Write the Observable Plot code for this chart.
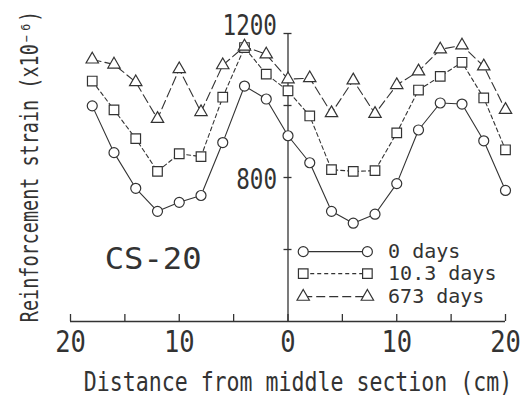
<!DOCTYPE html>
<html>
<head>
<meta charset="utf-8">
<script src="https://cdn.jsdelivr.net/npm/d3@7"></script>
<script src="https://cdn.jsdelivr.net/npm/@observablehq/plot@0.6"></script>
<style>
  html, body { margin: 0; padding: 0; background: #fff; }
  #chart svg { display: block; }
</style>
</head>
<body>
<div id="chart"></div>
<script>
// ---- data ----
const positions = [-18, -16, -14, -12, -10, -8, -6, -4, -2, 0, 2, 4, 6, 8, 10, 12, 14, 16, 18, 20];
const strain0days   = [999, 869, 770, 706, 731, 750, 897, 1054, 1018, 916, 841, 706, 673, 698, 783, 932, 1007, 1004, 902, 764];
const strain10days  = [1068, 988, 908, 817, 866, 858, 1023, 1161, 1087, 1041, 971, 822, 817, 819, 924, 1043, 1081, 1120, 1021, 877];
const strain673days = [1128, 1114, 1065, 963, 1101, 982, 1112, 1164, 1142, 1073, 1076, 979, 1070, 977, 1057, 1095, 1156, 1167, 1109, 988];
const seriesNames = ["0 days", "10.3 days", "673 days"];
const xTicks = [-20, -15, -10, -5, 0, 5, 10, 15, 20];
const xTickLabels = [-20, -10, 0, 10, 20];
const yTicks = [600, 800, 1000, 1200];
const yTickLabels = [800, 1200];
const specimenLabel = "CS-20";
const xTitle = "Distance from middle section (cm)";
const yTitle = "Reinforcement strain (x10\u207B\u2076)";

// ---- layout / style ----
const ink = "#333";
const mono = "'DejaVu Sans Mono', 'Liberation Mono', monospace";
const legendLayout = {x1: 1.4, x2: 7.3, textX: 9.2, rows: [594, 533, 469]};
const specimenAt = {x: -12.4, y: 574};
const styles = [
  {symbol: "circle", r: 5, dash: null},
  {symbol: "square", r: 5.4, dash: "4,3"},
  {symbol: "triangle", r: 4.6, dash: "9,4"}
];
const seriesValues = [strain0days, strain10days, strain673days];
// font sizes double as keys for the horizontal squeeze below
const fs = {xlab: 30, ylab: 29, xtitle: 26, ytitle: 24, spec: 31, legend: 20};
const squeezeBySize = {30: 0.85, 29: 0.78, 26: 0.83, 24: 0.77, 31: 1.04, 20: 1.0};

const marks = [];
marks.push(Plot.ruleY([400], {stroke: ink, strokeWidth: 1.3}));
marks.push(Plot.ruleX([0], {y1: 400, y2: 1200, stroke: ink, strokeWidth: 1.3}));
marks.push(Plot.ruleX(xTicks, {x: d => d, y1: 400, y2: 400, insetBottom: 7, stroke: ink, strokeWidth: 1.3}));
marks.push(Plot.ruleY(yTicks, {y: d => d, x1: 0, x2: 0, insetLeft: -4, insetRight: -4, stroke: ink, strokeWidth: 1.3}));
marks.push(Plot.text(xTickLabels, {x: d => d, frameAnchor: "bottom", dy: 30, text: d => String(Math.abs(d)),
  fontFamily: mono, fontSize: fs.xlab, fill: ink}));
marks.push(Plot.text(yTickLabels.filter(d => d !== 1200), {x: 0, y: d => d, dx: -11, dy: 2, textAnchor: "end", text: d => String(d),
  fontFamily: mono, fontSize: fs.ylab, fill: ink}));
marks.push(Plot.text(yTickLabels.filter(d => d === 1200), {x: 0, y: d => d, dx: -11, dy: -8, textAnchor: "end", text: d => String(d),
  fontFamily: mono, fontSize: fs.ylab, fill: ink}));
marks.push(Plot.text([xTitle], {text: d => d, frameAnchor: "bottom", textAnchor: "middle", dx: 10, dy: 69,
  fontFamily: mono, fontSize: fs.xtitle, fill: ink}));
marks.push(Plot.text([yTitle], {text: d => d, frameAnchor: "left", textAnchor: "middle", lineAnchor: "middle", rotate: -90, dx: -40, dy: -11,
  fontFamily: mono, fontSize: fs.ytitle, fill: ink}));
marks.push(Plot.text([specimenLabel], {x: specimenAt.x, y: specimenAt.y, text: d => d,
  fontFamily: mono, fontSize: fs.spec, fill: ink}));

seriesNames.forEach((name, k) => {
  const rows = positions.map((x, i) => ({x, v: seriesValues[k][i]}));
  const st = styles[k];
  marks.push(Plot.line(rows, {x: "x", y: "v", stroke: ink, strokeWidth: 1.1, strokeDasharray: st.dash}));
  marks.push(Plot.dot(rows, {x: "x", y: "v", symbol: st.symbol, r: st.r, fill: "white", stroke: ink, strokeWidth: 1.2}));
  const ly = legendLayout.rows[k];
  const lrow = [{name, y: ly}];
  marks.push(Plot.link(lrow, {x1: legendLayout.x1, x2: legendLayout.x2, y1: "y", y2: "y", stroke: ink, strokeWidth: 1.1, strokeDasharray: st.dash}));
  marks.push(Plot.dot([{x: legendLayout.x1, y: ly}, {x: legendLayout.x2, y: ly}], {x: "x", y: "y", symbol: st.symbol, r: st.r, fill: "white", stroke: ink, strokeWidth: 1.2}));
  marks.push(Plot.text(lrow, {x: legendLayout.textX, y: "y", text: "name", textAnchor: "start",
    fontFamily: mono, fontSize: fs.legend, fill: ink}));
});

const chart = Plot.plot({
  width: 530,
  height: 401,
  marginLeft: 70,
  marginRight: 25,
  marginTop: 33,
  marginBottom: 80,
  x: {domain: [-20, 20], axis: null},
  y: {domain: [400, 1200], axis: null},
  style: {background: "white", color: ink, overflow: "visible"},
  marks
});

// horizontal compression of the plotter-like lettering
chart.querySelectorAll("text").forEach(t => {
  let el = t, size = null;
  while (el && el !== chart) {
    const a = el.getAttribute && el.getAttribute("font-size");
    if (a) { size = parseFloat(a); break; }
    el = el.parentNode;
  }
  const s = squeezeBySize[size];
  if (!s || s === 1) return;
  let tr = t.getAttribute("transform");
  if (!tr) {
    const x = +(t.getAttribute("x") || 0), y = +(t.getAttribute("y") || 0);
    t.removeAttribute("x"); t.removeAttribute("y");
    tr = `translate(${x},${y})`;
  }
  t.setAttribute("transform", `${tr} scale(${s},1)`);
});
document.getElementById("chart").appendChild(chart);
</script>
</body>
</html>
